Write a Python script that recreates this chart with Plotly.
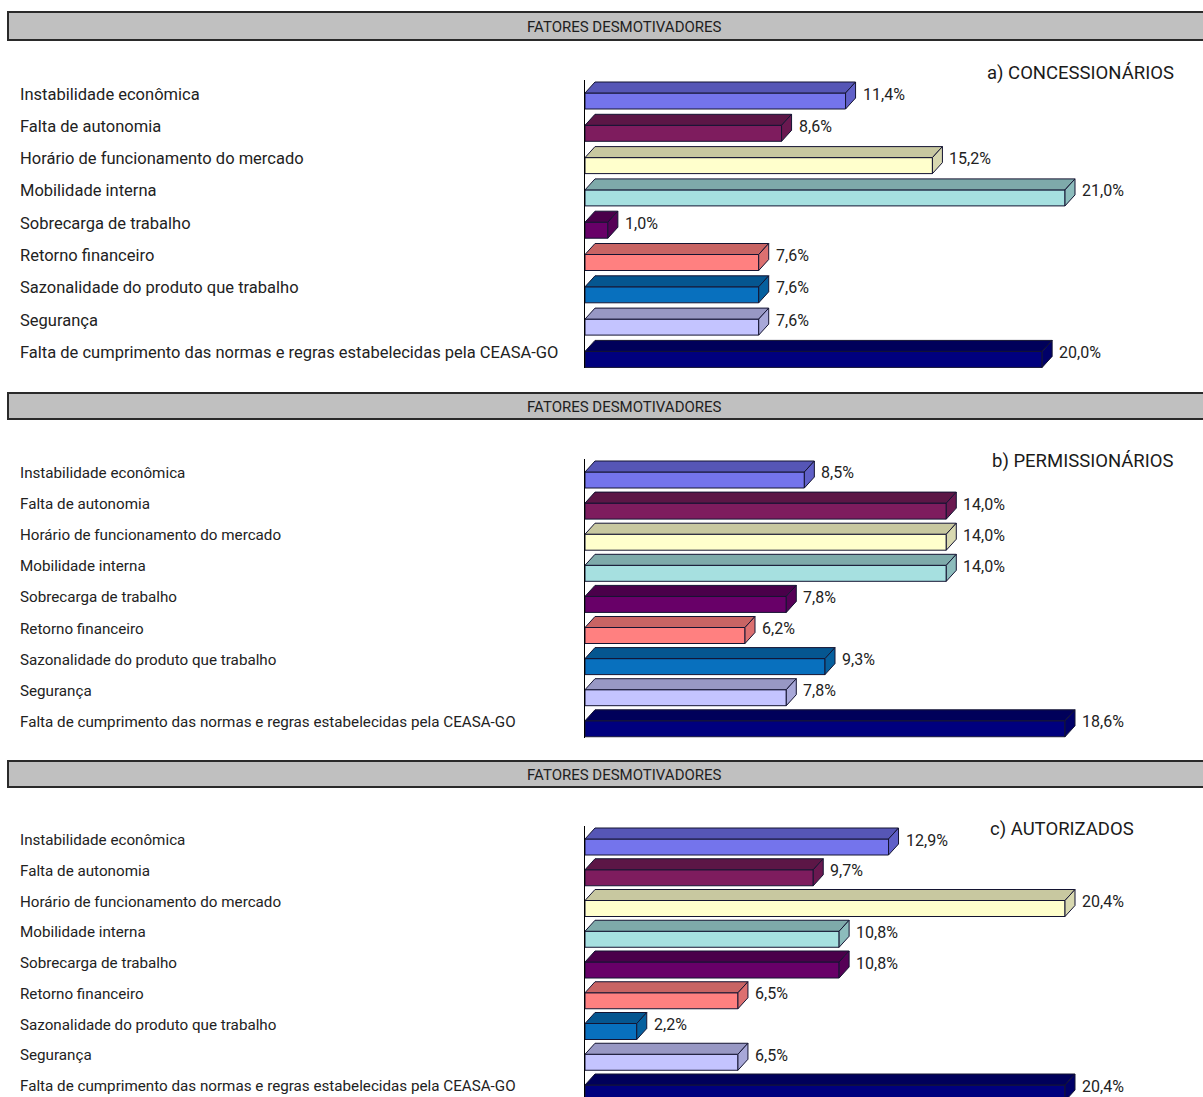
import plotly.graph_objects as go

# ---- data -------------------------------------------------------------
categories = [
    "Instabilidade econômica",
    "Falta de autonomia",
    "Horário de funcionamento do mercado",
    "Mobilidade interna",
    "Sobrecarga de trabalho",
    "Retorno financeiro",
    "Sazonalidade do produto que trabalho",
    "Segurança",
    "Falta de cumprimento das normas e regras estabelecidas pela CEASA-GO",
]
concessionarios = [11.4, 8.6, 15.2, 21.0, 1.0, 7.6, 7.6, 7.6, 20.0]
permissionarios = [8.5, 14.0, 14.0, 14.0, 7.8, 6.2, 9.3, 7.8, 18.6]
autorizados = [12.9, 9.7, 20.4, 10.8, 10.8, 6.5, 2.2, 6.5, 20.4]
panel_titles = ["a) CONCESSIONÁRIOS", "b) PERMISSIONÁRIOS", "c) AUTORIZADOS"]
header_text = "FATORES DESMOTIVADORES"

# ---- styling ----------------------------------------------------------
front_colors = ["#7474ec", "#7e1c5e", "#ffffcc", "#a6e0e0", "#680068",
                "#ff8080", "#0870be", "#c4c4ff", "#00007e"]
top_colors = ["#5656b6", "#5c1646", "#c8c8a0", "#7eaaaa", "#4a004a",
              "#c86464", "#055690", "#9898c4", "#00005a"]
side_colors = ["#6060c8", "#6a1850", "#d8d8b0", "#8cbcbc", "#560056",
               "#dc7070", "#06609e", "#a8a8d8", "#000068"]
edge = "#141432"

W, H = 1203, 1097
X0, X1 = 585, 1100          # pixel span of the value axis
BAR_END_AT_MAX = 1065       # pixel where the longest bar's front face ends
FRONT_UP, FRONT_DOWN = 2.5, 13.5
DEPTH_X, DEPTH_Y = 10, 11

panels = [
    dict(values=concessionarios, title=panel_titles[0], head=(12, 40),
         c0=95.5, step=32.3, title_y=73, title_x=1176, cat_size=16.5),
    dict(values=permissionarios, title=panel_titles[1], head=(393, 419),
         c0=474.5, step=31.1, title_y=461, title_x=1176, cat_size=15.2),
    dict(values=autorizados, title=panel_titles[2], head=(761, 787),
         c0=841.5, step=30.75, title_y=829, title_x=1136, cat_size=15.2),
]

NARROW = "Liberation Sans Narrow, Arial Narrow, Roboto, sans-serif"


def px(x):
    return x / W


def py(y):
    return 1 - y / H


fig = go.Figure()
shapes = []
annotations = []

for k, p in enumerate(panels):
    n = k + 1
    xa = "x" if n == 1 else f"x{n}"
    ya = "y" if n == 1 else f"y{n}"
    vals = p["values"]
    s = p["step"]
    c0 = p["c0"]

    xmax = max(vals) * (X1 - X0) / (BAR_END_AT_MAX - X0)
    ppu = (X1 - X0) / xmax
    dx = DEPTH_X / ppu
    up = FRONT_UP / s
    down = FRONT_DOWN / s
    back = (FRONT_UP + DEPTH_Y) / s

    top_px = c0 - FRONT_UP - DEPTH_Y - 2
    bot_px = min(c0 + 8 * s + FRONT_DOWN + 1, H)
    y_top = (top_px - c0) / s
    y_bot = (bot_px - c0) / s

    fig.layout[f"xaxis{'' if n == 1 else n}"] = dict(
        domain=[px(X0), px(X1)], range=[0, xmax], anchor=ya,
        showgrid=False, zeroline=False, showticklabels=False, showline=False,
        fixedrange=True)
    fig.layout[f"yaxis{'' if n == 1 else n}"] = dict(
        domain=[py(bot_px), py(top_px)], range=[y_bot, y_top], anchor=xa,
        showgrid=False, zeroline=False, showticklabels=False,
        showline=True, linecolor="#000000", linewidth=1, fixedrange=True)

    idx = list(range(len(categories)))

    # front faces
    fig.add_trace(go.Bar(
        x=vals, y=idx, orientation="h", base=0,
        offset=-up, width=up + down,
        marker=dict(color=front_colors, line=dict(color=edge, width=1)),
        xaxis=xa, yaxis=ya, showlegend=False, hoverinfo="skip"))

    for i, v in enumerate(vals):
        # top face
        fig.add_trace(go.Scatter(
            x=[0, v, v + dx, dx, 0],
            y=[i - up, i - up, i - back, i - back, i - up],
            mode="lines", fill="toself", fillcolor=top_colors[i],
            line=dict(color=edge, width=1),
            xaxis=xa, yaxis=ya, showlegend=False, hoverinfo="skip"))
        # right face
        fig.add_trace(go.Scatter(
            x=[v, v + dx, v + dx, v, v],
            y=[i - up, i - back, i + down - DEPTH_Y / s, i + down, i - up],
            mode="lines", fill="toself", fillcolor=side_colors[i],
            line=dict(color=edge, width=1),
            xaxis=xa, yaxis=ya, showlegend=False, hoverinfo="skip"))
        # value label
        annotations.append(dict(
            x=v + dx + 5 / ppu, y=i - 1.5 / s,
            xref=xa, yref=ya, xanchor="left", yanchor="middle",
            text=f"{v:.1f}".replace(".", ",") + "%", showarrow=False,
            font=dict(family=NARROW, size=16, color="#222222")))
        # category label
        annotations.append(dict(
            x=px(18), y=i - 1.5 / s, xref="paper", yref=ya,
            xanchor="left", yanchor="middle", text=categories[i],
            showarrow=False,
            font=dict(family=NARROW, size=p["cat_size"], color="#222222")))

    # header band
    h0, h1 = p["head"]
    shapes.append(dict(
        type="rect", xref="paper", yref="paper",
        x0=px(8), x1=px(1210), y0=py(h1), y1=py(h0),
        fillcolor="#c0c0c0", line=dict(color="#2a2a2a", width=2), layer="below"))
    annotations.append(dict(
        x=px(624), y=py((h0 + h1) / 2 + 1), xref="paper", yref="paper",
        xanchor="center", yanchor="middle", text=header_text, showarrow=False,
        font=dict(family=NARROW, size=15, color="#1e1e1e")))

    # panel title
    annotations.append(dict(
        x=px(p["title_x"]), y=py(p["title_y"]), xref="paper", yref="paper",
        xanchor="right", yanchor="middle", text=p["title"], showarrow=False,
        font=dict(family=NARROW, size=18.5, color="#1a1a1a")))

fig.update_layout(
    width=W, height=H, margin=dict(l=0, r=0, t=0, b=0),
    paper_bgcolor="#ffffff", plot_bgcolor="rgba(0,0,0,0)",
    barmode="overlay", shapes=shapes, annotations=annotations,
    showlegend=False)

fig.write_html("out.html")
